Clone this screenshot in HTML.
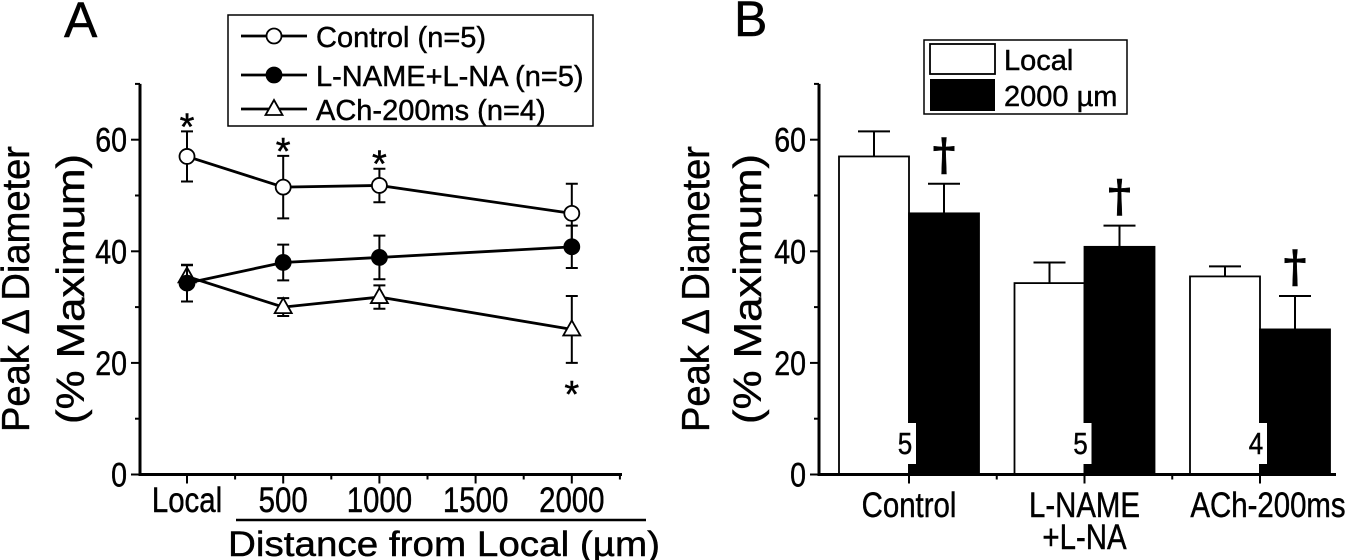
<!DOCTYPE html>
<html><head><meta charset="utf-8"><style>
html,body{margin:0;padding:0;background:#fff;}
svg{display:block;font-family:"Liberation Sans",Arial,sans-serif;}
svg text{stroke:#000;stroke-width:0.45;}
</style></head><body>
<svg id="fig" width="1350" height="560" viewBox="0 0 1350 560" xmlns="http://www.w3.org/2000/svg">
<g id="panelA"></g>
<g id="panelB"></g>
</svg>
<script>
// ---- Panel A data ----
const distances = [0, 500, 1000, 2000];
const xTickValues = [0, 500, 1000, 1500, 2000];
const xTickLabels = ["Local", "500", "1000", "1500", "2000"];
const yTickValues = [0, 20, 40, 60];
const controlMeans = [57, 51.5, 51.8, 46.8];
const controlErr = [4.5, 5.6, 3.0, 5.3];
const lnameMeans = [34.3, 38.0, 38.9, 40.8];
const lnameErr = [3.3, 3.2, 3.9, 3.8];
const achMeans = [35.5, 30.0, 31.8, 26.0];
const achErr = [2.0, 1.6, 2.1, 6.0];
const starControl = [true, true, true, false];
const starAch = [false, false, false, true];

// ---- Panel B data ----
const groups = ["Control", "L-NAME\n+L-NA", "ACh-200ms"];
const localMeans = [57, 34.3, 35.5];
const localErr = [4.5, 3.7, 1.8];
const farMeans = [46.8, 40.8, 26.0];
const farErr = [5.3, 3.8, 6.0];
const nLabels = ["5", "5", "4"];

const NS = "http://www.w3.org/2000/svg";
function mk(parent, tag, attrs, text) {
  const e = document.createElementNS(NS, tag);
  for (const k in attrs) e.setAttribute(k, attrs[k]);
  if (text !== undefined) e.textContent = text;
  parent.appendChild(e);
  return e;
}
// condensed text (narrow glyphs like the reference)
function ctext(parent, x, y, size, anchor, str) {
  return mk(parent, "text", {x: 0, y: 0, "font-size": size, "text-anchor": anchor, transform: `translate(${x},${y}) scale(0.84,1)`}, str);
}
const y0px = 474.5, yUnit = 5.58;
const yS = v => y0px - v * yUnit;

// ================= Panel A =================
const A = document.getElementById("panelA");
const axL = 140, axR = 622;
const xS = d => 187 + d * (96.2 / 500);

let t = mk(A, "text", {x: 64, y: 37, "font-size": 50}, "A");



let ax = mk(A, "path", {d: `M${axL},${yS(70)}V${y0px}H${axR}`, stroke: "#000", "stroke-width": 3, fill: "none"});


for (let v = 0; v <= 70; v += 10) {
  const major = v % 20 === 0;
  const tk = mk(A, "line", {x1: axL - (major ? 9 : 5), x2: axL, y1: yS(v), y2: yS(v), stroke: "#000", "stroke-width": 2});
  
  
}
yTickValues.forEach(v => {
  const e = ctext(A, axL - 13, yS(v) + 12, 34, "end", String(v));
  
  
});
for (let d = 0; d <= 2250; d += 250) {
  const major = d % 500 === 0;
  const tk = mk(A, "line", {x1: xS(d), x2: xS(d), y1: y0px, y2: y0px + (major ? 9 : 5), stroke: "#000", "stroke-width": 2});
  
  
}
xTickValues.forEach((d, i) => {
  const e = ctext(A, xS(d), 512, 35, "middle", xTickLabels[i]);
  
  
});
let ul = mk(A, "line", {x1: 236, x2: 646, y1: 520, y2: 520, stroke: "#000", "stroke-width": 2.5});


let xt = mk(A, "text", {x: 228, y: 556, "font-size": 35, textLength: 432, lengthAdjust: "spacingAndGlyphs"}, "Distance from Local (µm)");


let yt1 = mk(A, "text", {x: 0, y: 0, "font-size": 39, "text-anchor": "middle", transform: "translate(29,289) rotate(-90)", textLength: 286, lengthAdjust: "spacingAndGlyphs"}, "Peak \u0394 Diameter");


let yt2 = mk(A, "text", {x: 0, y: 0, "font-size": 39, "text-anchor": "middle", transform: "translate(84,289) rotate(-90)", textLength: 270, lengthAdjust: "spacingAndGlyphs"}, "(% Maximum)");



function drawMarker(g, name, marker, x, y) {
  let e;
  if (marker === "tri") e = mk(g, "path", {d: `M${x},${y - 9}L${x + 8.5},${y + 6}L${x - 8.5},${y + 6}Z`, fill: "#fff", stroke: "#000", "stroke-width": 1.8});
  else e = mk(g, "circle", {cx: x, cy: y, r: 7.5, fill: marker === "filled" ? "#000" : "#fff", stroke: "#000", "stroke-width": 1.8});
  
  
}
function drawSeries(name, means, errs, marker) {
  const g = mk(A, "g", {});
  
  
  means.forEach((m, i) => {
    const x = xS(distances[i]);
    const eb = mk(g, "path", {d: `M${x},${yS(m - errs[i])}V${yS(m + errs[i])}M${x - 6},${yS(m + errs[i])}H${x + 6}M${x - 6},${yS(m - errs[i])}H${x + 6}`, stroke: "#000", "stroke-width": 2, fill: "none"});
    
    
  });
  const pts = means.map((m, i) => `${xS(distances[i])},${yS(m)}`).join(" ");
  const ln = mk(g, "polyline", {points: pts, stroke: "#000", "stroke-width": 2.8, fill: "none"});
  
  
  means.forEach((m, i) => drawMarker(g, name, marker, xS(distances[i]), yS(m)));
}
drawSeries("ach", achMeans, achErr, "tri");
drawSeries("lname", lnameMeans, lnameErr, "filled");
drawSeries("control", controlMeans, controlErr, "open");

controlMeans.forEach((m, i) => {
  if (!starControl[i]) return;
  const s = mk(A, "text", {x: xS(distances[i]), y: yS(m + controlErr[i]) + 8, "font-size": 38, "text-anchor": "middle"}, "*");
  
  
});
achMeans.forEach((m, i) => {
  if (!starAch[i]) return;
  const s = mk(A, "text", {x: xS(distances[i]), y: yS(m - achErr[i]) + 44, "font-size": 38, "text-anchor": "middle"}, "*");
  
  
});

const lg = mk(A, "g", {});


mk(lg, "rect", {x: 228, y: 15, width: 365, height: 111, fill: "#fff", stroke: "#000", "stroke-width": 1.5});
const legRows = [["control", "open", "Control (n=5)", 36], ["lname", "filled", "L-NAME+L-NA (n=5)", 75], ["ach", "tri", "ACh-200ms (n=4)", 109]];
legRows.forEach(r => {
  const l = mk(lg, "line", {x1: 241, x2: 307, y1: r[3], y2: r[3], stroke: "#000", "stroke-width": 2.8});
  
  
  drawMarker(lg, r[0] + '-legend', r[1], 274, r[3]);
  const tx = mk(lg, "text", {x: 316, y: r[3] + 11, "font-size": 29}, r[2]);
  
  
});

// ================= Panel B =================
const B = document.getElementById("panelB");
const bL = 819, bR = 1336;
const cS = i => 909 + i * 175.5;
const barW = 70;

let tb = mk(B, "text", {x: 734, y: 36, "font-size": 50}, "B");



groups.forEach((gname, i) => {
  const c = cS(i);
  const lb = mk(B, "rect", {x: c - barW, y: yS(localMeans[i]), width: barW, height: y0px - yS(localMeans[i]), fill: "#fff", stroke: "#000", "stroke-width": 1.8});
  
  
  const le = mk(B, "path", {d: `M${c - barW / 2},${yS(localMeans[i])}V${yS(localMeans[i] + localErr[i])}M${c - barW / 2 - 16},${yS(localMeans[i] + localErr[i])}H${c - barW / 2 + 16}`, stroke: "#000", "stroke-width": 2, fill: "none"});
  
  
  const fb = mk(B, "rect", {x: c, y: yS(farMeans[i]), width: barW, height: y0px - yS(farMeans[i]), fill: "#000", stroke: "#000", "stroke-width": 1.8});
  
  
  const fe = mk(B, "path", {d: `M${c + barW / 2},${yS(farMeans[i])}V${yS(farMeans[i] + farErr[i])}M${c + barW / 2 - 16},${yS(farMeans[i] + farErr[i])}H${c + barW / 2 + 16}`, stroke: "#000", "stroke-width": 2, fill: "none"});
  
  
  const dg = mk(B, "text", {x: c + barW / 2, y: yS(farMeans[i] + farErr[i]) - 14, "font-size": 44, "font-weight": "bold", "text-anchor": "middle", "font-family": "DejaVu Serif, serif"}, "\u2020");
  
  
  const wb = mk(B, "rect", {x: c - 13, y: 423, width: 20, height: 41, fill: "#fff"});
  
  
  const nl = ctext(B, c - 4, 454, 31, "middle", nLabels[i]);
  
  
  gname.split("\n").forEach((line, k) => {
    const cl = ctext(B, c + (i === 2 ? 8 : 0), 517 + k * 32, 35, "middle", line);
    
    
  });
});

let bax = mk(B, "path", {d: `M${bL},${yS(70)}V${y0px}H${bR}`, stroke: "#000", "stroke-width": 3, fill: "none"});


for (let v = 0; v <= 70; v += 10) {
  const major = v % 20 === 0;
  const tk = mk(B, "line", {x1: bL - (major ? 9 : 5), x2: bL, y1: yS(v), y2: yS(v), stroke: "#000", "stroke-width": 2});
  
  
}
yTickValues.forEach(v => {
  const e = ctext(B, bL - 13, yS(v) + 12, 34, "end", String(v));
  
  
});
for (let k = 0; k < 5; k++) {
  const x = 909 + k * 87.75;
  const major = k % 2 === 0;
  const tk = mk(B, "line", {x1: x, x2: x, y1: y0px, y2: y0px + (major ? 9 : 5), stroke: "#000", "stroke-width": 2});
  
  
}
let byt1 = mk(B, "text", {x: 0, y: 0, "font-size": 39, "text-anchor": "middle", transform: "translate(709,289) rotate(-90)", textLength: 286, lengthAdjust: "spacingAndGlyphs"}, "Peak \u0394 Diameter");


let byt2 = mk(B, "text", {x: 0, y: 0, "font-size": 39, "text-anchor": "middle", transform: "translate(761,289) rotate(-90)", textLength: 270, lengthAdjust: "spacingAndGlyphs"}, "(% Maximum)");



const lgB = mk(B, "g", {});


mk(lgB, "rect", {x: 924, y: 40, width: 203, height: 74, fill: "#fff", stroke: "#000", "stroke-width": 1.5});
let sw1 = mk(lgB, "rect", {x: 930, y: 44, width: 65, height: 30, fill: "#fff", stroke: "#000", "stroke-width": 1.8});


let sw2 = mk(lgB, "rect", {x: 930, y: 79, width: 65, height: 32, fill: "#000"});


let lt1 = mk(lgB, "text", {x: 1004, y: 70, "font-size": 29}, "Local");


let lt2 = mk(lgB, "text", {x: 1004, y: 106, "font-size": 29}, "2000 µm");


</script>
</body></html>
